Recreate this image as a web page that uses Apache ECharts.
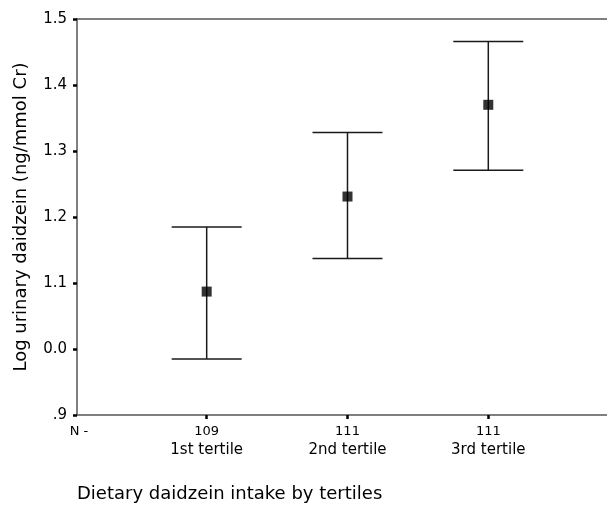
<!DOCTYPE html>
<html><head><meta charset="utf-8">
<script src="https://cdn.jsdelivr.net/npm/echarts@6/dist/echarts.min.js"></script>
<style>html,body{margin:0;padding:0;background:#fff}#c{width:607px;height:506px}</style>
</head><body><div id="c"></div>
<script>
var categories = ['1st tertile', '2nd tertile', '3rd tertile'];
var counts = ['109', '111', '111'];
var means = [1.087, 1.231, 1.370];
var upper = [1.185, 1.328, 1.466];
var lower = [0.985, 1.137, 1.271];
var yTickValues = [0.9, 1.0, 1.1, 1.2, 1.3, 1.4, 1.5];
var yTickLabels = ['.9', '0.0', '1.1', '1.2', '1.3', '1.4', '1.5'];
var nLabel = 'N -';

var xMin = 0.079, xMax = 3.843;
var positions = categories.map(function(c, i){ return i + 1; });

var chart = echarts.init(document.getElementById('c'), null, {renderer: 'canvas'});
var font = 'DejaVu Sans, Liberation Sans, Arial, sans-serif';
var axisColor = '#555';

chart.setOption({
  animation: false,
  title: {
    text: 'Dietary daidzein intake by tertiles',
    left: 72, top: 480,
    textStyle: {fontFamily: font, fontSize: 18, fontWeight: 'normal', color: '#000'}
  },
  grid: {left: 77, right: 0, top: 19, bottom: 91, containLabel: false, outerBoundsMode: 'none'},
  xAxis: [{
    type: 'value', min: xMin, max: xMax, position: 'bottom',
    splitLine: {show: false},
    axisLine: {show: true, onZero: false, lineStyle: {color: axisColor, width: 1.5}},
    axisTick: {show: true, length: 4, inside: false, customValues: positions, lineStyle: {color: '#000', width: 2.5}},
    axisLabel: {
      customValues: [xMin].concat(positions),
      fontFamily: font, fontSize: 13, color: '#000', margin: 8,
      formatter: function(v){
        if (Math.abs(v - xMin) < 1e-6) return '{n|' + nLabel + '}\n{t| }';
        var i = Math.round(v) - 1;
        return '{c|' + counts[i] + '}\n{t|' + categories[i] + '}';
      },
      rich: {
        n: {fontFamily: font, fontSize: 13, color: '#000', lineHeight: 18, padding: [0, 0, 0, 4]},
        c: {fontFamily: font, fontSize: 13, color: '#000', lineHeight: 18},
        t: {fontFamily: font, fontSize: 15, color: '#000', lineHeight: 18}
      }
    }
  }, {
    type: 'value', min: xMin, max: xMax, position: 'top',
    splitLine: {show: false},
    axisLine: {show: true, onZero: false, lineStyle: {color: axisColor, width: 1.5}},
    axisTick: {show: false}, axisLabel: {show: false}
  }],
  yAxis: {
    type: 'value', min: 0.9, max: 1.5, interval: 0.1,
    name: 'Log urinary daidzein (ng/mmol Cr)',
    nameLocation: 'middle', nameGap: 47, nameRotate: 90,
    nameTextStyle: {fontFamily: font, fontSize: 18, color: '#000'},
    splitLine: {show: false},
    axisLine: {show: true, onZero: false, lineStyle: {color: axisColor, width: 1.5}},
    axisTick: {show: true, length: 4, lineStyle: {color: '#000', width: 2.5}},
    axisLabel: {
      fontFamily: font, fontSize: 15, color: '#000', margin: 10,
      formatter: function(v){
        for (var i = 0; i < yTickValues.length; i++) {
          if (Math.abs(v - yTickValues[i]) < 1e-6) return yTickLabels[i];
        }
        return '';
      }
    }
  },
  series: [{
    type: 'custom',
    xAxisIndex: 0,
    data: positions.map(function(p, i){ return [p, lower[i], upper[i]]; }),
    renderItem: function(params, api){
      var x = api.value(0);
      var lo = api.coord([x, api.value(1)]);
      var hi = api.coord([x, api.value(2)]);
      var hw = 35;
      var style = {stroke: '#1a1a1a', lineWidth: 1.5};
      return {type: 'group', children: [
        {type: 'line', shape: {x1: lo[0], y1: lo[1], x2: hi[0], y2: hi[1]}, style: style},
        {type: 'line', shape: {x1: hi[0] - hw, y1: hi[1], x2: hi[0] + hw, y2: hi[1]}, style: style},
        {type: 'line', shape: {x1: lo[0] - hw, y1: lo[1], x2: lo[0] + hw, y2: lo[1]}, style: style}
      ]};
    },
    z: 2
  }, {
    type: 'scatter',
    xAxisIndex: 0,
    symbol: 'rect', symbolSize: 10,
    itemStyle: {color: '#000'},
    data: positions.map(function(p, i){ return [p, means[i]]; }),
    z: 3
  }]
});
</script>
</body></html>
